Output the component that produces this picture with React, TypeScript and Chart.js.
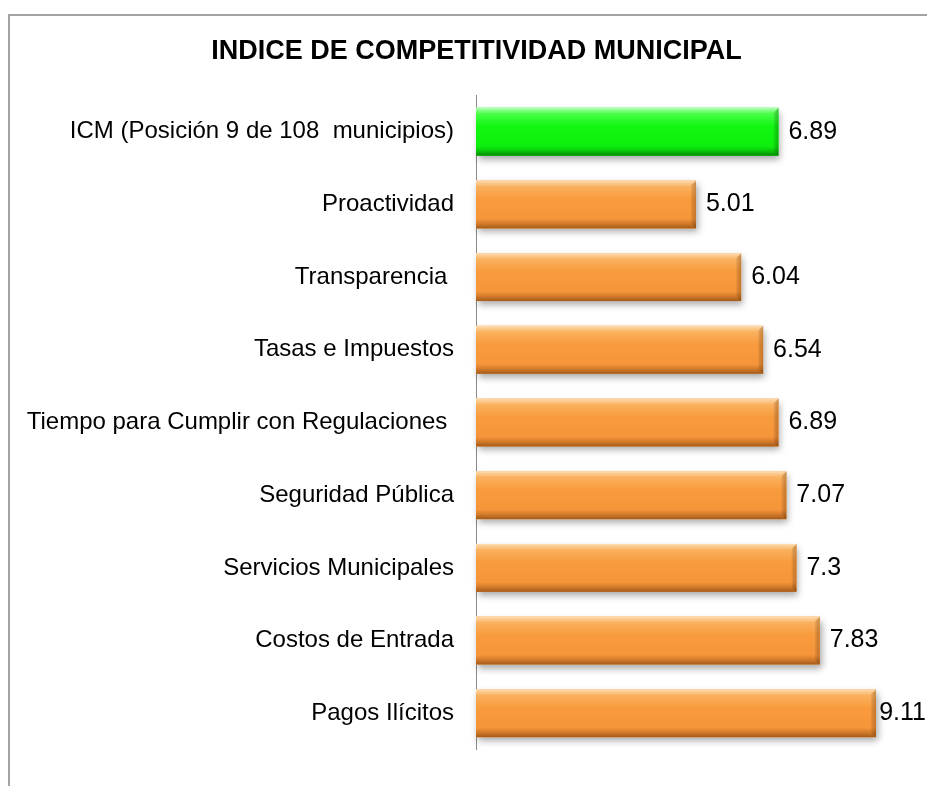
import React, { useEffect, useRef } from 'react';
import { Chart, registerables } from 'chart.js';

Chart.register(...registerables);

const chartTitle = 'INDICE DE COMPETITIVIDAD MUNICIPAL';

const categories = [
  'ICM (Posición 9 de 108  municipios)',
  'Proactividad',
  'Transparencia ',
  'Tasas e Impuestos',
  'Tiempo para Cumplir con Regulaciones ',
  'Seguridad Pública',
  'Servicios Municipales',
  'Costos de Entrada',
  'Pagos Ilícitos',
];

const scores = [6.89, 5.01, 6.04, 6.54, 6.89, 7.07, 7.3, 7.83, 9.11];

const axisMin = 0;
const axisMax = 10;

const GREEN = {
  base: '#0EF30E',
  stops: ['#B0FFB0', '#55FF55', '#12F712', '#0DEF0D', '#0BC70B', '#078507'],
  edge: 'rgba(0,60,0,0.30)',
};
const ORANGE = {
  base: '#F7963A',
  stops: ['#FDD9A8', '#FBB666', '#F89B3D', '#F6953A', '#D27A2B', '#A35A18'],
  edge: 'rgba(90,40,0,0.30)',
};
const palette = scores.map((_, i) => (i === 0 ? GREEN : ORANGE));

const FONT = '"Liberation Sans", Arial, sans-serif';

const framePlugin = {
  id: 'frame',
  beforeDraw(chart: any) {
    const { ctx, width, height } = chart;
    ctx.save();
    ctx.strokeStyle = '#a3a3a3';
    ctx.lineWidth = 2;
    ctx.beginPath();
    ctx.moveTo(9, height);
    ctx.lineTo(9, 15);
    ctx.lineTo(width, 15);
    ctx.stroke();
    ctx.restore();
  },
};

function barRect(el: any) {
  const p = el.getProps(['x', 'y', 'base', 'height'], true);
  const left = Math.min(p.base, p.x);
  const w = Math.abs(p.x - p.base);
  const top = p.y - p.height / 2;
  return { left, top, w, h: p.height, x: p.x, y: p.y };
}

const bevelPlugin = {
  id: 'bevel',
  beforeDatasetsDraw(chart: any) {
    const { ctx } = chart;
    const meta = chart.getDatasetMeta(0);
    ctx.save();
    meta.data.forEach((el: any) => {
      const r = barRect(el);
      ctx.shadowColor = 'rgba(0,0,0,0.35)';
      ctx.shadowBlur = 7;
      ctx.shadowOffsetX = 2;
      ctx.shadowOffsetY = 4;
      ctx.fillStyle = '#ffffff';
      ctx.fillRect(r.left, r.top, r.w, r.h);
    });
    ctx.restore();
  },
  afterDatasetsDraw(chart: any) {
    const { ctx } = chart;
    const meta = chart.getDatasetMeta(0);
    ctx.save();
    meta.data.forEach((el: any, i: number) => {
      const c = palette[i];
      const r = barRect(el);
      const g = ctx.createLinearGradient(0, r.top, 0, r.top + r.h);
      const pos = [0, 0.07, 0.38, 0.8, 0.9, 1];
      c.stops.forEach((s: string, k: number) => g.addColorStop(pos[k], s));
      ctx.fillStyle = g;
      ctx.fillRect(r.left, r.top, r.w, r.h);
      const b = 5;
      const R = r.left + r.w;
      const B = r.top + r.h;
      const gr = ctx.createLinearGradient(R - b, 0, R, 0);
      gr.addColorStop(0, 'rgba(0,0,0,0.05)');
      gr.addColorStop(1, c.edge);
      ctx.fillStyle = gr;
      ctx.beginPath();
      ctx.moveTo(R, r.top);
      ctx.lineTo(R, B);
      ctx.lineTo(R - b, B - b);
      ctx.lineTo(R - b, r.top + b);
      ctx.closePath();
      ctx.fill();
      ctx.fillStyle = 'rgba(255,255,255,0.18)';
      ctx.beginPath();
      ctx.moveTo(r.left, r.top);
      ctx.lineTo(R, r.top);
      ctx.lineTo(R - b, r.top + b);
      ctx.lineTo(r.left, r.top + b);
      ctx.closePath();
      ctx.fill();
    });
    ctx.fillStyle = '#000';
    ctx.font = `25px ${FONT}`;
    ctx.textAlign = 'left';
    ctx.textBaseline = 'middle';
    meta.data.forEach((el: any, i: number) => {
      const r = barRect(el);
      const txt = String(scores[i]);
      const tw = ctx.measureText(txt).width;
      const x = Math.min(r.x + 10, chart.width - tw - 1);
      ctx.fillText(txt, x, r.y);
    });
    ctx.restore();
  },
};

export default function App() {
  const ref = useRef<HTMLCanvasElement | null>(null);
  useEffect(() => {
    document.body.style.margin = '0';
    document.body.style.overflow = 'hidden';
    const canvas = ref.current;
    if (!canvas) return;
    const chart = new Chart(canvas, {
      type: 'bar',
      data: {
        labels: categories,
        datasets: [
          {
            data: scores,
            backgroundColor: palette.map((c) => c.base),
            borderWidth: 0,
            categoryPercentage: 1,
            barPercentage: 0.66,
          },
        ],
      },
      options: {
        indexAxis: 'y',
        animation: false,
        responsive: false,
        maintainAspectRatio: false,
        devicePixelRatio: 1,
        layout: { padding: { left: 38, right: 12, top: 0, bottom: 23 } },
        plugins: {
          legend: { display: false },
          tooltip: { enabled: false },
          title: {
            display: true,
            text: chartTitle,
            color: '#000',
            font: { family: FONT, size: 27, weight: 'bold' },
            padding: { top: 35, bottom: 28 },
          },
        },
        scales: {
          x: { display: false, min: axisMin, max: axisMax },
          y: {
            grid: { display: false, drawTicks: false },
            border: { display: true, color: '#8a8a8a', width: 1 },
            ticks: {
              autoSkip: false,
              color: '#000',
              padding: 22,
              font: { family: FONT, size: 24 },
            },
            afterFit(axis: any) {
              axis.width = 438;
              axis._computeLabelArea = () => undefined;
            },
          },
        },
      },
      plugins: [framePlugin, bevelPlugin],
    });
    return () => chart.destroy();
  }, []);
  return <canvas ref={ref} width={927} height={786} style={{ display: 'block' }} />;
}
